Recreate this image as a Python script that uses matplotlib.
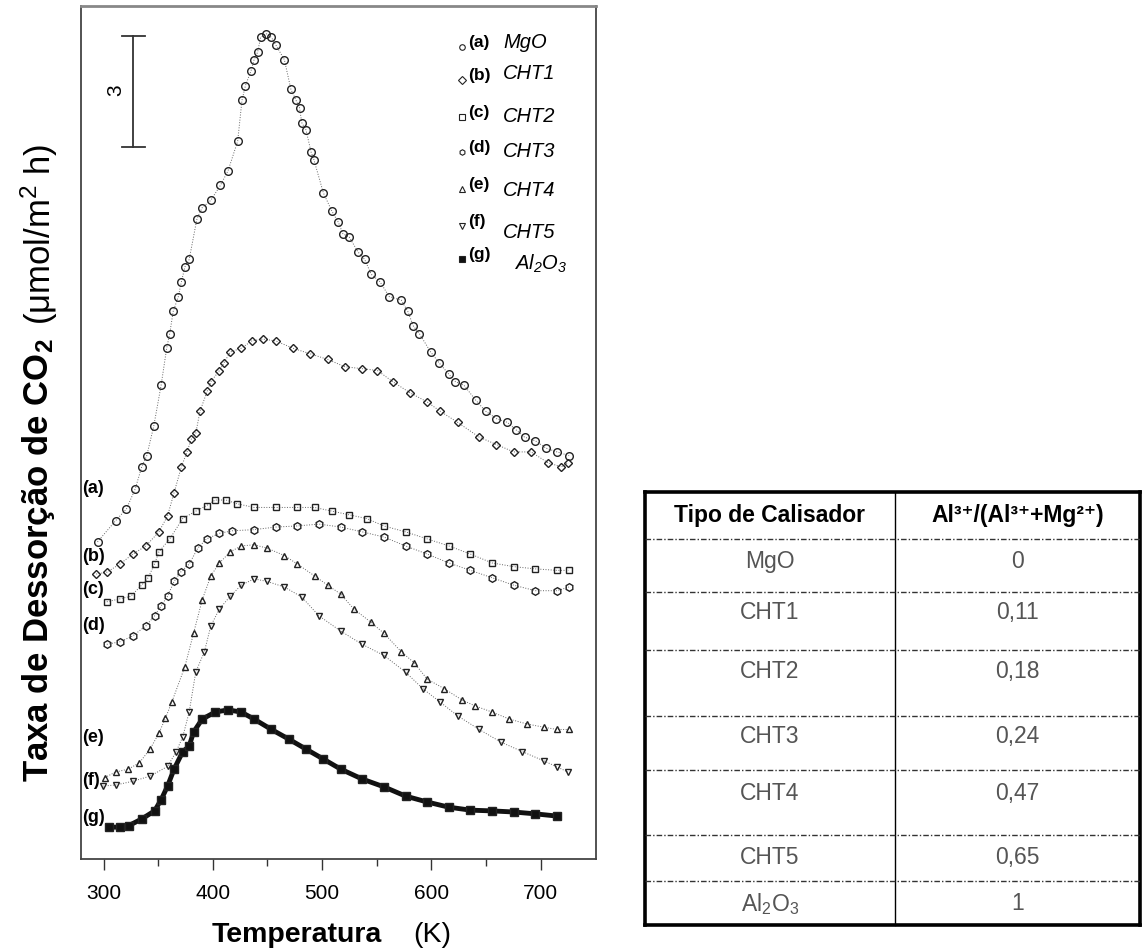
import numpy as np
import matplotlib
matplotlib.use("Agg")
import matplotlib.pyplot as plt

plt.rcParams['font.family'] = ['Liberation Sans', 'DejaVu Sans']
plt.rcParams['mathtext.default'] = 'regular'

# ---- data (T in K, desorption rate in scale-bar units) ----
T_a = [294.5, 311, 321, 329, 335, 339.6, 346, 352.7, 357.8, 360.6, 363.8, 368.5, 371.3, 374.5, 378.4,
       385.5, 390.3, 398.2, 406.9, 414, 422.8, 426.7, 429.9, 435, 437.8, 441, 443.8, 449, 453.7, 457.6,
       465.5, 471.5, 476.2, 479.4, 481.4, 485.3, 490, 492.5, 501.2, 509.1, 515, 519, 525, 533, 539, 545,
       553, 561.4, 572.5, 578.4, 583.6, 589, 599.4, 607.3, 616, 622, 629.9, 640.6, 649.7, 659.6, 669.5,
       677.4, 685.3, 695.2, 705.1, 715, 726.1]
y_a = [8.57, 9.14, 9.46, 10.0, 10.6, 10.9, 11.7, 12.8, 13.8, 14.2, 14.8, 15.2, 15.6, 16.0, 16.2,
       17.3, 17.6, 17.8, 18.2, 18.6, 19.4, 20.5, 20.9, 21.3, 21.6, 21.8, 22.2, 22.3, 22.2, 22.0,
       21.6, 20.8, 20.5, 20.3, 19.9, 19.7, 19.1, 18.9, 18.0, 17.5, 17.2, 16.9, 16.8, 16.4, 16.2, 15.8,
       15.6, 15.2, 15.1, 14.8, 14.4, 14.2, 13.7, 13.4, 13.1, 12.9, 12.8, 12.4, 12.1, 11.9, 11.8,
       11.6, 11.4, 11.3, 11.1, 11.0, 10.9]

T_b = [293.3, 303, 315, 326.9, 338.8, 350.7, 358.6, 364.6, 371.3, 376.4, 380.4, 384.4, 388.3, 395, 398.2,
       406.1, 410.1, 416, 425.9, 435.8, 445.7, 457.6, 473.5, 489.3, 505.1, 521, 536.8, 550.7, 564.6,
       580.4, 596.2, 608.1, 624, 643.8, 659.6, 675.4, 691.3, 707.1, 719, 725]
y_b = [7.7, 7.75, 7.97, 8.24, 8.46, 8.84, 9.27, 9.9, 10.6, 11.0, 11.35, 11.5, 12.1, 12.65, 12.9,
       13.2, 13.4, 13.7, 13.8, 14.0, 14.05, 14.0, 13.8, 13.65, 13.5, 13.3, 13.25, 13.2, 12.9,
       12.6, 12.35, 12.1, 11.8, 11.4, 11.2, 11.0, 11.0, 10.7, 10.6, 10.7]

T_c = [303, 315, 325, 334.9, 340.8, 346.7, 350.7, 360.6, 372.5, 384.4, 394.3, 402.2, 412.1, 422, 437.8,
       457.6, 477.4, 493.1, 509.1, 524.9, 540.8, 556.6, 576.4, 596.2, 616, 635.8, 655.6, 675.4, 695.2,
       715, 726]
y_c = [6.95, 7.03, 7.1, 7.4, 7.6, 7.97, 8.3, 8.65, 9.2, 9.4, 9.55, 9.7, 9.7, 9.6, 9.5,
       9.5, 9.5, 9.5, 9.4, 9.3, 9.2, 9.0, 8.84, 8.65, 8.46, 8.24, 8.0, 7.9, 7.84,
       7.8, 7.8]

T_d = [303, 315, 326.9, 338.8, 346.7, 352.7, 358.6, 364.6, 370.5, 378.4, 386.3, 394.3, 406.1, 418, 437.8,
       457.6, 477.4, 497.2, 517, 536.8, 556.6, 576.4, 596.2, 616, 635.8, 655.6, 675.4, 695.2, 715, 726]
y_d = [5.8, 5.87, 6.03, 6.3, 6.57, 6.84, 7.1, 7.5, 7.75, 7.97, 8.4, 8.65, 8.8, 8.87, 8.9,
       8.97, 9.0, 9.05, 8.97, 8.84, 8.7, 8.46, 8.24, 8.0, 7.8, 7.6, 7.4, 7.25, 7.25, 7.35]

T_e = [301.2, 311, 322.8, 332.8, 342.6, 350.7, 356.6, 362.5, 374.5, 382.4, 390.3, 398.2, 406.1, 416, 426,
       437.8, 449.8, 465.5, 477.4, 493.1, 505.1, 517, 528.9, 544.6, 556.6, 572.5, 584.4, 596.2, 612,
       627.9, 639.8, 655.6, 671.5, 687.3, 703.1, 715, 726]
y_e = [2.2, 2.35, 2.43, 2.6, 2.97, 3.4, 3.8, 4.24, 5.2, 6.1, 7.0, 7.65, 8.0, 8.3, 8.46,
       8.49, 8.4, 8.2, 7.97, 7.65, 7.4, 7.16, 6.76, 6.4, 6.1, 5.6, 5.3, 4.86, 4.6,
       4.3, 4.14, 3.97, 3.78, 3.65, 3.56, 3.5, 3.5]

T_f = [299.2, 311, 326.9, 342.6, 358.6, 366.5, 372.5, 378.4, 384.4, 392.3, 398.2, 406.1, 416, 426, 437.8,
       449.8, 465.5, 481.4, 497.2, 517, 536.8, 556.6, 576.4, 592.3, 608.1, 624, 643.8, 663.6, 683.4,
       703.1, 715, 725]
y_f = [1.97, 2.0, 2.1, 2.24, 2.5, 2.9, 3.3, 3.97, 5.05, 5.6, 6.3, 6.76, 7.1, 7.4, 7.57,
       7.5, 7.35, 7.08, 6.57, 6.16, 5.8, 5.5, 5.05, 4.6, 4.24, 3.87, 3.5, 3.16, 2.9,
       2.65, 2.49, 2.35]

T_g = [305.1, 315, 323, 334.9, 346.7, 352.7, 358.6, 364.6, 372.5, 378.4, 382.4, 390.3, 402.2, 414, 426,
       437.8, 453.7, 469.5, 485.3, 501.2, 517, 536.8, 556.6, 576.4, 596.2, 616, 635.8, 655.6, 675.4,
       695.2, 715]
y_g = [0.86, 0.86, 0.9, 1.08, 1.3, 1.6, 1.97, 2.43, 2.9, 3.05, 3.43, 3.78, 3.97, 4.03, 3.97,
       3.78, 3.5, 3.24, 2.97, 2.7, 2.43, 2.16, 1.95, 1.7, 1.54, 1.4, 1.32, 1.3, 1.27,
       1.22, 1.16]

tags = ['(a)', '(b)', '(c)', '(d)', '(e)', '(f)', '(g)']
names = ['MgO', 'CHT1', 'CHT2', 'CHT3', 'CHT4', 'CHT5', 'Al$_2$O$_3$']
tag_levels = [10.05, 8.2, 7.3, 6.35, 3.32, 2.16, 1.14]

table_types = ['MgO', 'CHT1', 'CHT2', 'CHT3', 'CHT4', 'CHT5', 'Al$_2$O$_3$']
table_ratio = ['0', '0,11', '0,18', '0,24', '0,47', '0,65', '1']

W, H = 1143, 953
fig = plt.figure(figsize=(W / 100, H / 100), dpi=100)

# ---------------- table (drawn in pixel coordinates) ----------------
tab = fig.add_axes([0, 0, 1, 1])
tab.set_xlim(0, W)
tab.set_ylim(H, 0)
tab.axis('off')

tl, tr, tt, tb = 645, 1140, 493, 926
col = 895
row_lines = [540, 593, 651, 717, 771, 836, 882]
txt_y = [562, 613, 672, 737, 794, 858, 904]

for xs, ys in [([tl, tr], [tt, tt]), ([tl, tr], [tb, tb]), ([tl, tl], [tt, tb]), ([tr, tr], [tt, tb])]:
    tab.plot(xs, ys, color='black', lw=2.6, solid_capstyle='projecting')
tab.plot([col, col], [tt, tb], color='black', lw=1.0)
for ry in row_lines:
    tab.plot([tl, tr], [ry, ry], color='#333333', lw=1.0, ls=(0, (4, 1.5, 1, 1.5)))

tab.text((tl + col) / 2, 516, 'Tipo de Calisador', ha='center', va='center',
         fontsize=16.5, fontweight='bold', color='black')
tab.text((col + tr) / 2, 516, 'Al³⁺/(Al³⁺+Mg²⁺)', ha='center', va='center',
         fontsize=16.5, fontweight='bold', color='black')
for k in range(len(table_types)):
    tab.text((tl + col) / 2, txt_y[k], table_types[k], ha='center', va='center',
             fontsize=16.5, color='#555555')
    tab.text((col + tr) / 2, txt_y[k], table_ratio[k], ha='center', va='center',
             fontsize=16.5, color='#555555')

# ---------------- TPD chart ----------------
ax = fig.add_axes([81 / W, 1 - 860 / H, (596 - 81) / W, (860 - 7) / H])
ax.set_xlim(279.4, 750.7)
ax.set_ylim(0, 23.05)

series = [(T_a, y_a, 'o', 'none'), (T_b, y_b, 'D', 'none'), (T_c, y_c, 's', 'none'),
          (T_d, y_d, 'h', 'none'), (T_e, y_e, '^', 'none'), (T_f, y_f, 'v', 'none'),
          (T_g, y_g, 's', '#111111')]
msz = [5.5, 4.2, 5, 5.5, 5, 5, 5.5]
for i, (tx, ty, mk, fc) in enumerate(series):
    if i == 6:
        ax.plot(tx, ty, ls='-', lw=3.5, color='#111111', zorder=1)
    else:
        ax.plot(tx, ty, ls=':', lw=0.7, color='#666666', zorder=1)
    ax.plot(tx, ty, ls='none', marker=mk, ms=msz[i], mfc=fc, mec='#222222', mew=1.0, zorder=2)

# curve tags at the left edge
for k in range(len(tags)):
    ax.text(280.2, tag_levels[k], tags[k], ha='left', va='center', fontsize=13, fontweight='bold')

# legend drawn by hand, like the original
leg_y = [22.1, 21.2, 20.2, 19.25, 18.25, 17.25, 16.35]
name_y = [22.1, 21.25, 20.1, 19.15, 18.1, 16.95, 16.1]
for k in range(len(tags)):
    mk, fc = series[k][2], series[k][3]
    ax.plot([628], [leg_y[k] - 0.15], ls='none', marker=mk, ms=4, mfc=fc, mec='#222222', mew=0.8)
    ax.text(634, leg_y[k], tags[k], ha='left', va='center', fontsize=12.5, fontweight='bold')
    ax.text(665.5 if k < 6 else 676, name_y[k], names[k], ha='left', va='center',
            fontsize=14.5, fontstyle='italic')

# scale bar
ax.plot([327, 327], [19.24, 22.24], color='#333333', lw=1.3)
ax.plot([317, 338], [22.24, 22.24], color='#333333', lw=1.3)
ax.plot([317, 338], [19.24, 19.24], color='#333333', lw=1.3)
ax.text(311, 20.8, '3', rotation=90, ha='center', va='center', fontsize=15)

ax.set_yticks([])
ax.set_xticks([300, 400, 500, 600, 700])
ax.set_xticks([350, 450, 550, 650], minor=True)
ax.tick_params(axis='x', which='major', length=8, width=1.0, labelsize=15, pad=9, color='#333333')
ax.tick_params(axis='x', which='minor', length=5, width=1.0, color='#333333')
for s in ax.spines.values():
    s.set_color('#444444')
    s.set_linewidth(1.3)
ax.spines['top'].set_color('#888888')
ax.spines['top'].set_linewidth(2.0)

# axis labels
fig.text(212 / W, 1 - 935 / H, 'Temperatura', ha='left', va='center', fontsize=20.5, fontweight='bold')
fig.text(413 / W, 1 - 935 / H, '(K)', ha='left', va='center', fontsize=20.5)
fig.text(39 / W, 1 - 782 / H, 'Taxa de Dessorção de CO$_2$', rotation=90, ha='center', va='bottom',
         fontsize=25, fontweight='bold')
fig.text(39 / W, 1 - 325 / H, '(μmol/m$^2$ h)', rotation=90, ha='center', va='bottom', fontsize=25)

fig.savefig('out.png', dpi=100)
